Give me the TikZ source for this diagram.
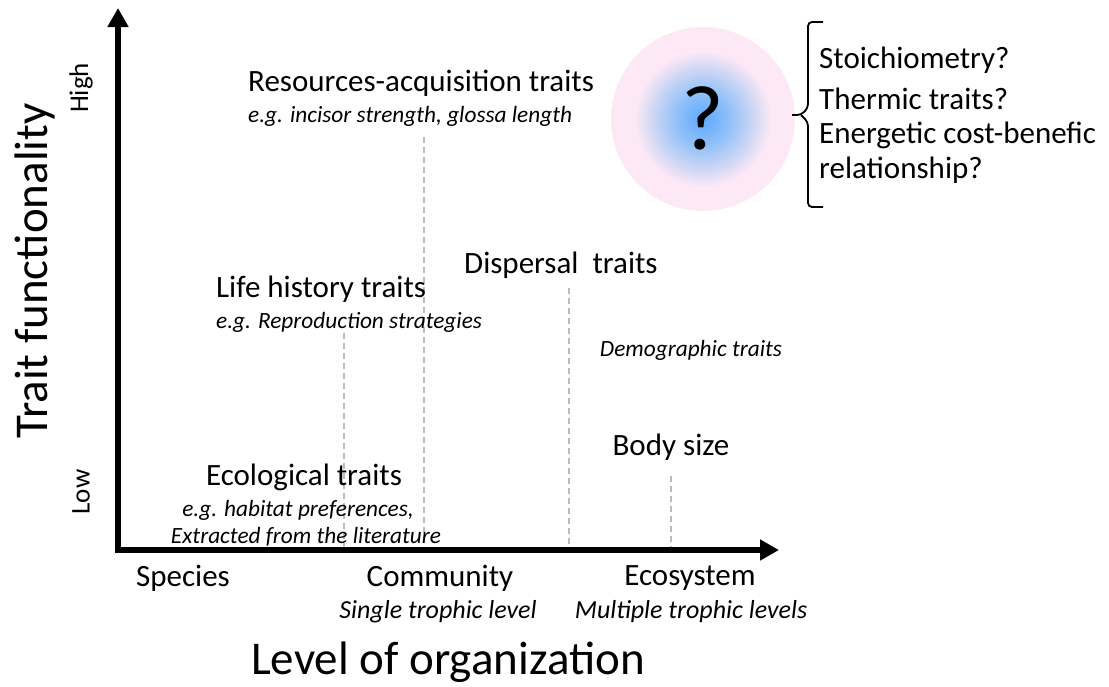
\documentclass[tikz,border=0pt]{standalone}
\usepackage{fontspec}
\setmainfont{Carlito}
\usetikzlibrary{arrows.meta}
\definecolor{qpink}{HTML}{FDE8F6}
\definecolor{qblue}{HTML}{5EA8FF}
\definecolor{qblueb}{HTML}{8EC0F8}
\definecolor{qmid}{HTML}{CCD6F4}
\definecolor{dashgrey}{HTML}{BBBBBB}
\pgfdeclareradialshading{qshade}{\pgfpoint{0bp}{0bp}}{color(0bp)=(qblue); color(7bp)=(qblueb); color(13.5bp)=(qmid); color(18.5bp)=(qpink); color(50bp)=(qpink)}
\newcommand{\fs}[1]{\fontsize{#1}{#1}\selectfont}
\tikzset{
  axis/.style={line width=6pt,-{Triangle[width=20pt,length=19pt]}},
  guide/.style={dashgrey,line width=1.8pt,dash pattern=on 6pt off 4pt},
  main/.style={font=\fs{31}, inner sep=0pt},
  ital/.style={font=\fs{23.3}\itshape, inner sep=0pt},
  axital/.style={font=\fs{26}\itshape, inner sep=0pt},
  axlab/.style={font=\fs{47}, inner sep=0pt},
  tick/.style={font=\fs{31}, inner sep=0pt},
}
\begin{document}
\begin{tikzpicture}[x=1pt,y=-1pt]
\useasboundingbox (0,0) rectangle (1109,686);
% axes
\coordinate (ytip) at (118,8);
\coordinate (xtip) at (779,550);
\coordinate (ybot) at (118,553);
\coordinate (xleft) at (115,550);
% dashed guides
\coordinate (g1t) at (424,137); \coordinate (g1b) at (424,548);
\coordinate (g2t) at (344,333); \coordinate (g2b) at (344,548);
\coordinate (g3t) at (569,288); \coordinate (g3b) at (569,548);
\coordinate (g4t) at (671,476); \coordinate (g4b) at (671,548);
\draw[guide] (g1t) -- (g1b);
\draw[guide] (g2t) -- (g2b);
\draw[guide] (g3t) -- (g3b);
\draw[guide] (g4t) -- (g4b);
\draw[axis] (ybot) -- (ytip);
\draw[axis] (xleft) -- (xtip);
% axis labels
\node[axlab, rotate=90] (ylab) at (35,271) {Trait functionality};
\node[tick, font=\fs{27}, rotate=90] (high) at (81,88) {High};
\node[tick, font=\fs{27}, rotate=90] (low) at (81,492) {Low};
\node[tick] (species) at (183,578) {Species};
\node[tick] (community) at (440,578) {Community};
\node[tick] (ecosystem) at (690,578) {Ecosystem};
\node[axital] (single) at (438,612) {Single trophic level};
\node[axital] (multiple) at (691,612) {Multiple trophic levels};
\node[axlab] (xlab) at (448,662) {Level of organization};
% trait labels
\node[main, anchor=west] (res) at (248,83) {Resources-acquisition traits};
\node[ital, anchor=west] (resx) at (248,116) {e.g. incisor strength, glossa length};
\node[main, anchor=west] (life) at (216,289) {Life history traits};
\node[ital, anchor=west] (lifex) at (216,322) {e.g. Reproduction strategies};
\node[main, anchor=west] (disp) at (464,265) {Dispersal\ \ traits};
\node[ital] (demo) at (691,350) {Demographic traits};
\node[main] (body) at (671,447) {Body size};
\node[main] (eco) at (304,477) {Ecological traits};
\node[ital] (ecox1) at (298,510) {e.g. habitat preferences,};
\node[ital] (ecox2) at (306,537) {Extracted from the literature};
% question circle
\shade[shading=qshade] (703,119) circle[radius=92];
\node[font=\fs{92}, inner sep=0pt] (q) at (703,118) {?};
% brace
\draw[line width=1.8pt, rounded corners=4pt] (823,22) -- (808,22) -- (808,108) -- (801,115) -- (792,115);
\draw[line width=1.8pt, rounded corners=4pt] (801,115) -- (808,122) -- (808,207) -- (823,207);
\node[main, anchor=west] (s1) at (819,60) {Stoichiometry?};
\node[main, anchor=west] (s2) at (819,99) {Thermic traits?};
\node[main, anchor=west] (s3) at (819,135) {Energetic cost-benefic};
\node[main, anchor=west] (s4) at (819,170) {relationship?};
\end{tikzpicture}
\end{document}
